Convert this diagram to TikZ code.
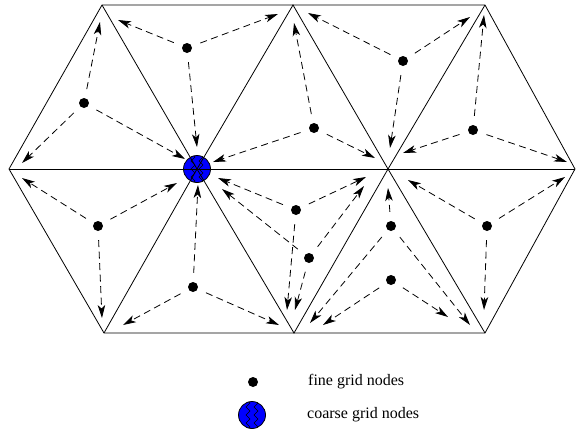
\documentclass[tikz,border=0pt]{standalone}
\usepackage{fontspec}
\setmainfont{Liberation Serif}
\usetikzlibrary{arrows.meta}
\begin{document}
\begin{tikzpicture}[x=1pt,y=-1pt,
  mesh/.style={line width=0.8pt},
  fine/.style={circle,fill=black,inner sep=0pt,minimum size=10pt},
  coarse/.style={circle,draw,line width=0.8pt,fill=blue,minimum size=27pt,inner sep=0pt,
    path picture={
      \foreach \dx in {-6,2}{
        \draw[line width=0.6pt]
          ([xshift=\dx pt,yshift=16pt]path picture bounding box.center)
          -- ++(4,4) -- ++(-4,4) -- ++(4,4) -- ++(-4,4)
          -- ++(4,4) -- ++(-4,4) -- ++(4,4) -- ++(-4,4);
      }}},
  flow/.style={line width=0.8pt,dash pattern=on 7pt off 4.5pt,
    -{Stealth[length=13pt,width=7.5pt,inset=3.5pt]},shorten <=9pt},
  lbl/.style={anchor=west,font=\fontsize{16}{19}\selectfont,inner sep=0pt}]
\useasboundingbox (0,0) rectangle (576,429);

% mesh vertices: top row, middle row, bottom row
\coordinate (a1) at (102,5);
\coordinate (a2) at (293,5);
\coordinate (a3) at (485,5);
\coordinate (b0) at (9,169);
\coordinate (b1) at (197,169);
\coordinate (b2) at (388,169);
\coordinate (b3) at (575,169);
\coordinate (c1) at (104,333);
\coordinate (c2) at (294,333);
\coordinate (c3) at (485,333);

% the coarse grid node sits on the shared vertex
\node[coarse] (coarse) at (b1) {};

% triangulation
\draw[mesh] (b0) -- (a1) -- (a2) -- (a3) -- (b3) -- (c3) -- (c2) -- (c1) -- cycle;
\draw[mesh] (b0) -- (b3);
\draw[mesh] (a1) -- (b1) -- (a2) -- (b2) -- (a3);
\draw[mesh] (c1) -- (b1) -- (c2) -- (b2) -- (c3);

% fine grid nodes
\node[fine] (d1)  at (84,103) {};
\node[fine] (d2)  at (187,48) {};
\node[fine] (d3)  at (314,128) {};
\node[fine] (d4)  at (403,61) {};
\node[fine] (d5)  at (473,130) {};
\node[fine] (d6)  at (98,226) {};
\node[fine] (d7)  at (193,287) {};
\node[fine] (d8)  at (296,210) {};
\node[fine] (d9)  at (309,258) {};
\node[fine] (d10) at (391,226) {};
\node[fine] (d11) at (391,280) {};
\node[fine] (d12) at (487,226) {};

% transfer arrows from each fine node towards the surrounding vertices
\foreach \d/\n/\x/\y in {
  d1/u/100/22,   d1/l/22/163,   d1/r/185/159,
  d2/l/118/20,   d2/r/278/14,   d2/d/197/147,
  d3/u/294/23,   d3/r/375/158,  d3/l/213/162,
  d4/l/308/13,   d4/r/470/17,   d4/d/390/148,
  d5/u/484/15,   d5/l/403/153,  d5/r/567/162,
  d6/l/22/178,   d6/r/177/183,  d6/d/102/318,
  d7/u/198/185,  d7/l/123/325,  d7/r/279/325,
  d8/l/218/178,  d8/r/366/177,  d8/d/287/310,
  d9/l/222/189,  d9/r/364/186,  d9/d/295/310,
  d10/u/388/188, d10/l/310/323, d10/r/470/325,
  d11/l/323/325, d11/r/448/317,
  d12/l/408/180, d12/r/565/177, d12/d/484/310}{
  \coordinate (\d-\n) at (\x,\y);
  \draw[flow] (\d) -- (\d-\n);
}

% legend
\node[fine] (legfine) at (253,382) {};
\node[lbl] (legfinetext) at (308,382) {fine grid nodes};
\node[coarse] (legcoarse) at (252,415) {};
\node[lbl] (legcoarsetext) at (307,415) {coarse grid nodes};
\end{tikzpicture}
\end{document}
